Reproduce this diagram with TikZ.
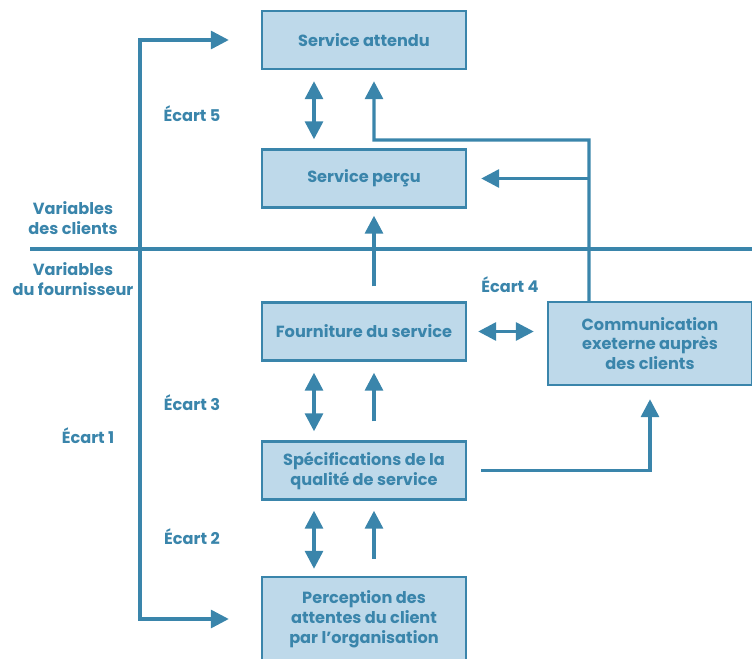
\documentclass[tikz,border=0pt]{standalone}
\usepackage{fontspec}
\setmainfont{Poppins}
\usetikzlibrary{arrows.meta}
\definecolor{gapblue}{HTML}{3A85AB}
\definecolor{gapfill}{HTML}{BED9EA}
\tikzstyle{box}=[draw=gapblue, fill=gapfill, line width=1.4pt, minimum width=4.08cm, minimum height=1.16cm, align=center, text=gapblue, font=\bfseries\fontsize{9.2}{11.3}\selectfont]
\tikzstyle{lbl}=[text=gapblue, align=center, font=\bfseries\fontsize{9.2}{11.3}\selectfont]
\tikzstyle{edge}=[draw=gapblue, line width=1.9pt]
\tikzstyle{oneway}=[edge, -{Triangle[length=0.36cm,width=0.36cm]}]
\tikzstyle{twoway}=[edge, {Triangle[length=0.36cm,width=0.36cm]}-{Triangle[length=0.36cm,width=0.36cm]}]

\begin{document}
\begin{tikzpicture}[x=0.02cm, y=-0.02cm]
\clip (0,0) rectangle (752,659);
\node[box] (att) at (364,40) {Service attendu};
\node[box] (per) at (364,178.5) {Service perçu};
\node[box] (four) at (364,331.5) {Fourniture du service};
\node[box] (spec) at (364,470.5) {Spécifications de la\\qualité de service};
\node[box, minimum height=1.68cm] (perc) at (364,619) {Perception des\\attentes du client\\par l’organisation};
\node[box, minimum height=1.66cm] (comm) at (650,343.5) {Communication\\exeterne auprès\\des clients};
\node[lbl] (e5) at (192,114) {Écart 5};
\node[lbl] (e4) at (510,285) {Écart 4};
\node[lbl] (e3) at (192,403) {Écart 3};
\node[lbl] (e2) at (192,537) {Écart 2};
\node[lbl] (e1) at (88,436) {Écart 1};
\node[lbl] (vc) at (73,218) {Variables\\des clients};
\node[lbl] (vf) at (73,279) {Variables\\du fournisseur};
\coordinate (hl) at (30,249);
\coordinate (hr) at (752,249);
\coordinate (cx) at ([xshift=-1.22cm]comm.north);
\coordinate (bend) at (374,140);
% client / supplier border
\draw[edge] (hl) -- (hr);
% gap 1
\draw[twoway] ([xshift=-0.64cm]att.west) -| (140,330) |- ([xshift=-0.64cm]perc.west);
% gap 5
\draw[twoway, shorten <=0.22cm, shorten >=0.18cm] ([xshift=-1cm]att.south) -- ([xshift=-1cm]per.north);
\draw[oneway, shorten >=0.22cm] (cx) |- (bend) -- ([xshift=0.2cm]att.south);
\draw[oneway, shorten >=0.28cm] (per.east -| cx) -- (per.east);
\draw[oneway, shorten <=0.3cm, shorten >=0.14cm] ([xshift=0.2cm]four.north) -- ([xshift=0.2cm]per.south);
% gap 4
\draw[twoway, shorten <=0.22cm, shorten >=0.26cm] (four.east) -- (comm.west |- four.east);
\draw[oneway, shorten <=0.28cm, shorten >=0.26cm] (spec.east) -| (comm.south);
% gap 3
\draw[twoway, shorten <=0.22cm, shorten >=0.18cm] ([xshift=-1cm]four.south) -- ([xshift=-1cm]spec.north);
\draw[oneway, shorten <=0.38cm, shorten >=0.22cm] ([xshift=0.2cm]spec.north) -- ([xshift=0.2cm]four.south);
% gap 2
\draw[twoway, shorten <=0.2cm, shorten >=0.14cm] ([xshift=-1cm]spec.south) -- ([xshift=-1cm]perc.north);
\draw[oneway, shorten <=0.34cm, shorten >=0.2cm] ([xshift=0.2cm]perc.north) -- ([xshift=0.2cm]spec.south);
\end{tikzpicture}
\end{document}
